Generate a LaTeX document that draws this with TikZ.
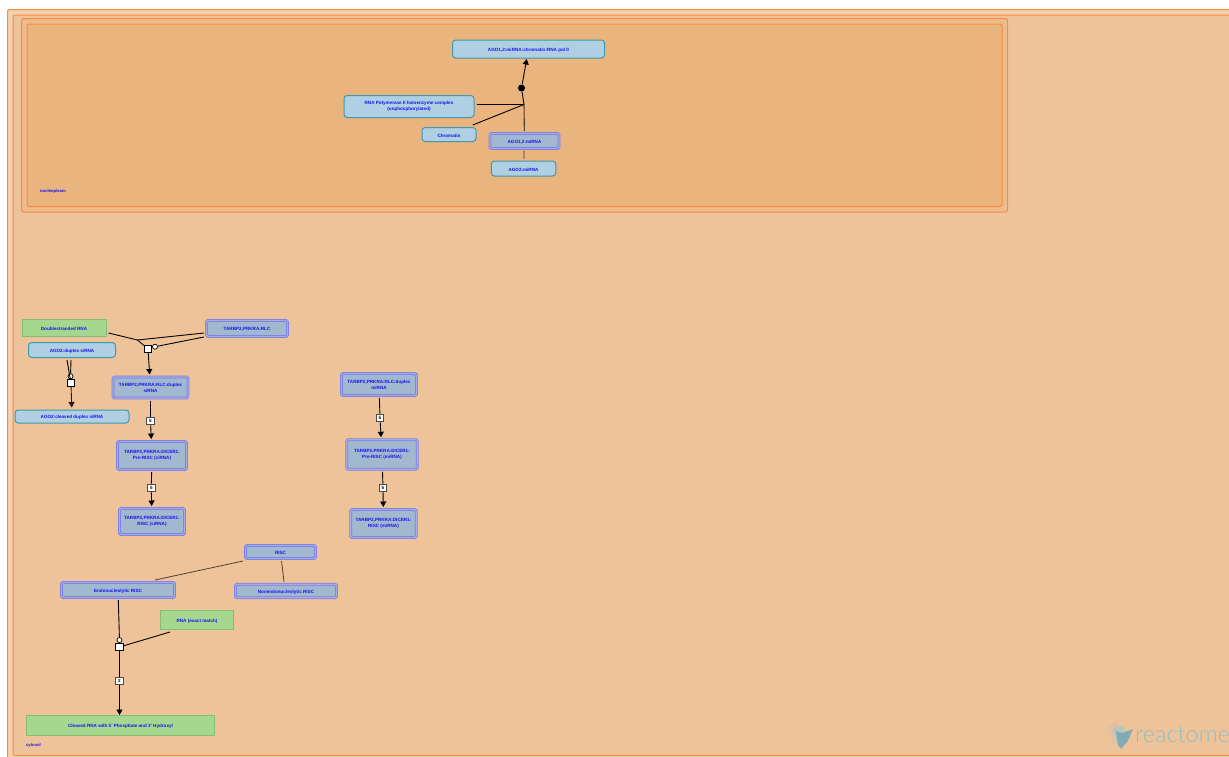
\documentclass[tikz,border=0pt]{standalone}
\usepackage{fontspec}
\setmainfont{Liberation Sans}
\newfontfamily\logofont{Lato Light}
\usetikzlibrary{arrows.meta}
\definecolor{outerband}{HTML}{F5D2AF}
\definecolor{cytofill}{HTML}{EFC39A}
\definecolor{nucband}{HTML}{EDBC8D}
\definecolor{nucfill}{HTML}{EAB47F}
\definecolor{complines}{HTML}{FB8B40}
\definecolor{protfill}{HTML}{AED0E2}
\definecolor{protline}{HTML}{3F98AE}
\definecolor{cplxfill}{HTML}{A1B8CF}
\definecolor{cplxline}{HTML}{7A7CE8}
\definecolor{cplxmid}{HTML}{A6AEE0}
\definecolor{rnafill}{HTML}{A6D78F}
\definecolor{rnaline}{HTML}{85BE78}
\definecolor{labelblue}{HTML}{1414F0}
\definecolor{logoteal}{HTML}{8FC0C6}
\begin{document}
\begin{tikzpicture}[x=1pt,y=-1pt]
        % Define styles for nodes and edges
        \tikzstyle{entity}=[font=\bfseries\fontsize{4.6}{5.8}\selectfont, text=labelblue, align=center, inner sep=0pt, outer sep=2.5pt, execute at begin node={\rule{0pt}{5.2pt}}]
        \tikzstyle{protein}=[entity, rectangle, rounded corners=3.2pt, draw=protline, fill=protfill, line width=1pt]
        \tikzstyle{cplx}=[entity, rectangle, rounded corners=1.5pt, draw=cplxline, fill=cplxfill, line width=0.8pt, double=cplxmid, double distance=1.3pt]
        \tikzstyle{rna}=[entity, rectangle, draw=rnaline, fill=rnafill, line width=1pt]
        \tikzstyle{reaction}=[rectangle, draw=black, fill=white, line width=0.9pt, minimum size=7.5pt, inner sep=0pt]
        \tikzstyle{catalyst}=[circle, draw=black, fill=white, line width=0.7pt, minimum size=5pt, inner sep=0pt]
        \tikzstyle{stepno}=[rectangle, draw=black!70, fill=white, line width=1.1pt, minimum size=7.5pt, inner sep=0pt, font=\bfseries\fontsize{4.6}{5}\selectfont]
        \tikzstyle{edge}=[black, line width=0.9pt]
        \tikzstyle{arrowedge}=[edge, -{Triangle[length=5.5pt,width=6pt]}]
        \tikzstyle{thinedge}=[black!65!nucfill, line width=0.8pt]
        \tikzstyle{comp}=[draw=complines, line width=1pt, rounded corners=2pt]
        \tikzstyle{complabel}=[font=\bfseries\fontsize{4.2}{5}\selectfont, text=labelblue, inner sep=0pt]

        \clip (0,0) rectangle (1229,756);
        \fill[white] (0,0) rectangle (1229,756);

        % Define compartments
        \draw[comp, fill=outerband] (7.5,9.5) rectangle (1260,775);
        \draw[comp, fill=cytofill] (13,15) rectangle (1260,755.5);
        \draw[comp, fill=nucband] (21.5,18.5) rectangle (1007.5,212);
        \draw[comp, fill=nucfill] (27,24) rectangle (1002,206.5);
        \node[complabel] (nucleoplasm) at (53,191.5) {nucleoplasm};
        \node[complabel] (cytosol) at (33.5,745) {cytosol};

        % Define logo
        \fill[black!8!outerband] (1107,727) -- (1118,721) -- (1120,738) -- (1113,744) -- cycle;
        \fill[logoteal!60!outerband] (1112,729) -- (1124,725) -- (1125,742) -- (1118,747) -- cycle;
        \fill[logoteal!90!black] (1116,731) -- (1122,733) -- (1133,729) -- (1130,736) -- (1127,742) -- (1121,749) -- (1118,745) -- cycle;
        \node[font=\logofont\fontsize{23.5}{24}\selectfont, text=logoteal, anchor=base west, inner sep=0pt] (logo) at (1135,742) {reactome};

        % Define vertices, nucleoplasm
        \node[protein, minimum width=152pt, minimum height=18pt, outer sep=1pt] (polcomplex) at (528.5,49) {AGO1,2:miRNA:chromatin:RNA pol II};
        \node[protein, minimum width=130pt, minimum height=22pt] (rnapol) at (409,106.5) {RNA Polymerase II holoenzyme complex\\(unphosphorylated)};
        \node[protein, minimum width=54pt, minimum height=14pt] (chromatin) at (449,134.5) {Chromatin};
        \node[cplx, minimum width=69pt, minimum height=15pt] (agomirna) at (524.5,141) {AGO1,2:miRNA};
        \node[protein, minimum width=64.5pt, minimum height=15pt] (agotwomirna) at (523.5,168.5) {AGO2:miRNA};
        \node[circle, fill=black, minimum size=7pt, inner sep=0pt] (binding) at (521.5,88) {};
        \coordinate (junction) at (524,104.5);

        % Define vertices, cytosol
        \node[rna, minimum width=84pt, minimum height=16.5pt] (dsrna) at (64,328) {Doublestranded RNA};
        \node[cplx, minimum width=81pt, minimum height=16pt] (rlc) at (247,328.5) {TARBP2,PRKRA:RLC};
        \node[protein, minimum width=87pt, minimum height=15pt] (agoduplex) at (72,350) {AGO2:duplex siRNA};
        \node[protein, minimum width=114pt, minimum height=13pt] (agocleaved) at (72,416.5) {AGO2:cleaved duplex siRNA};
        \node[cplx, minimum width=75pt, minimum height=21pt] (rlcsirna) at (150.5,387.5) {TARBP2,PRKRA:RLC:duplex\\siRNA};
        \node[cplx, minimum width=75pt, minimum height=22pt] (rlcmirna) at (379,384.5) {TARBP2,PRKRA:RLC:duplex\\miRNA};
        \node[cplx, minimum width=69pt, minimum height=28pt] (presirna) at (152,455.5) {TARBP2,PRKRA:DICER1:\\Pre-RISC (siRNA)};
        \node[cplx, minimum width=70.5pt, minimum height=29.5pt] (premirna) at (382,454.5) {TARBP2,PRKRA:DICER1:\\Pre-RISC (miRNA)};
        \node[cplx, minimum width=65pt, minimum height=26pt] (riscsirna) at (152,521.5) {TARBP2,PRKRA:DICER1:\\RISC (siRNA)};
        \node[cplx, minimum width=65.5pt, minimum height=28pt] (riscmirna) at (383.5,523.5) {TARBP2,PRKRA:DICER1:\\RISC (miRNA)};
        \node[cplx, minimum width=70pt, minimum height=13pt] (risc) at (280.5,552) {RISC};
        \node[cplx, minimum width=113pt, minimum height=15pt] (endorisc) at (118,590) {Endonucleolytic RISC};
        \node[cplx, minimum width=101pt, minimum height=13.5pt] (nonendorisc) at (286,591) {Nonendonucleolytic RISC};
        \node[rna, minimum width=73pt, minimum height=19pt] (exactrna) at (197,620) {RNA (exact match)};
        \node[rna, minimum width=188pt, minimum height=20pt, outer sep=0.5pt] (cleavedrna) at (120.5,725.5) {Cleaved RNA with 5' Phosphate and 3' Hydroxyl};

        % Define reactions and step labels
        \node[reaction] (r1) at (148,349) {};
        \node[catalyst] (c1) at (155,346.7) {};
        \node[reaction] (r2) at (71,383) {};
        \node[catalyst] (c2) at (70.5,376.3) {};
        \node[reaction] (r3) at (119.5,647) {};
        \node[catalyst] (c3) at (119.5,640) {};
        \node[stepno] (s1) at (150.5,421) {5};
        \node[stepno] (s2) at (151.3,488) {5};
        \node[stepno] (s3) at (380,418) {5};
        \node[stepno] (s4) at (383,488) {5};
        \node[stepno] (s5) at (119.5,681) {2};
        \coordinate (split) at (137.5,340);

        % Draw edges, nucleoplasm
        \draw[edge] (rnapol.east |- junction) -- (junction);
        \draw[edge] (chromatin) -- (junction);
        \draw[edge, black!65!nucfill, line width=1.1pt] (agomirna) -- (junction);
        \draw[edge] (junction) -- (binding);
        \draw[arrowedge] (binding) -- (polcomplex);
        \draw[thinedge] (agotwomirna) -- (agomirna);

        % Draw edges, cytosol
        \draw[edge] (dsrna.east) ++(0,5) -- (split);
        \draw[edge] ([yshift=-4.5pt]rlc.west) -- (split);
        \draw[edge] (split) -- (r1);
        \draw[edge] ([yshift=-8.5pt]rlc.west) -- (c1);
        \draw[arrowedge] (r1) -- (rlcsirna);
        \draw[edge] ([xshift=-5pt]agoduplex.south) -- (r2);
        \draw[edge] ([xshift=-1pt]agoduplex.south) -- (c2);
        \draw[arrowedge, black!85!cytofill] (r2) -- (agocleaved);
        \draw[edge] (rlcsirna) -- (s1);
        \draw[arrowedge] (s1) -- (presirna);
        \draw[edge] (presirna) -- (s2);
        \draw[arrowedge] (s2) -- (riscsirna);
        \draw[edge] (rlcmirna) -- (s3);
        \draw[arrowedge] (s3) -- (premirna);
        \draw[edge] (premirna) -- (s4);
        \draw[arrowedge] (s4) -- (riscmirna);
        \draw[thinedge] (risc.south west) -- ([xshift=37pt]endorisc.north);
        \draw[thinedge] (risc) -- (nonendorisc.north -| 284,0);
        \draw[edge] (endorisc) -- (c3);
        \draw[edge] ([xshift=-27pt]exactrna.south) -- (r3);
        \draw[edge] (r3) -- (s5);
        \draw[arrowedge] (s5) -- (s5 |- cleavedrna.north);
      \end{tikzpicture}
\end{document}
